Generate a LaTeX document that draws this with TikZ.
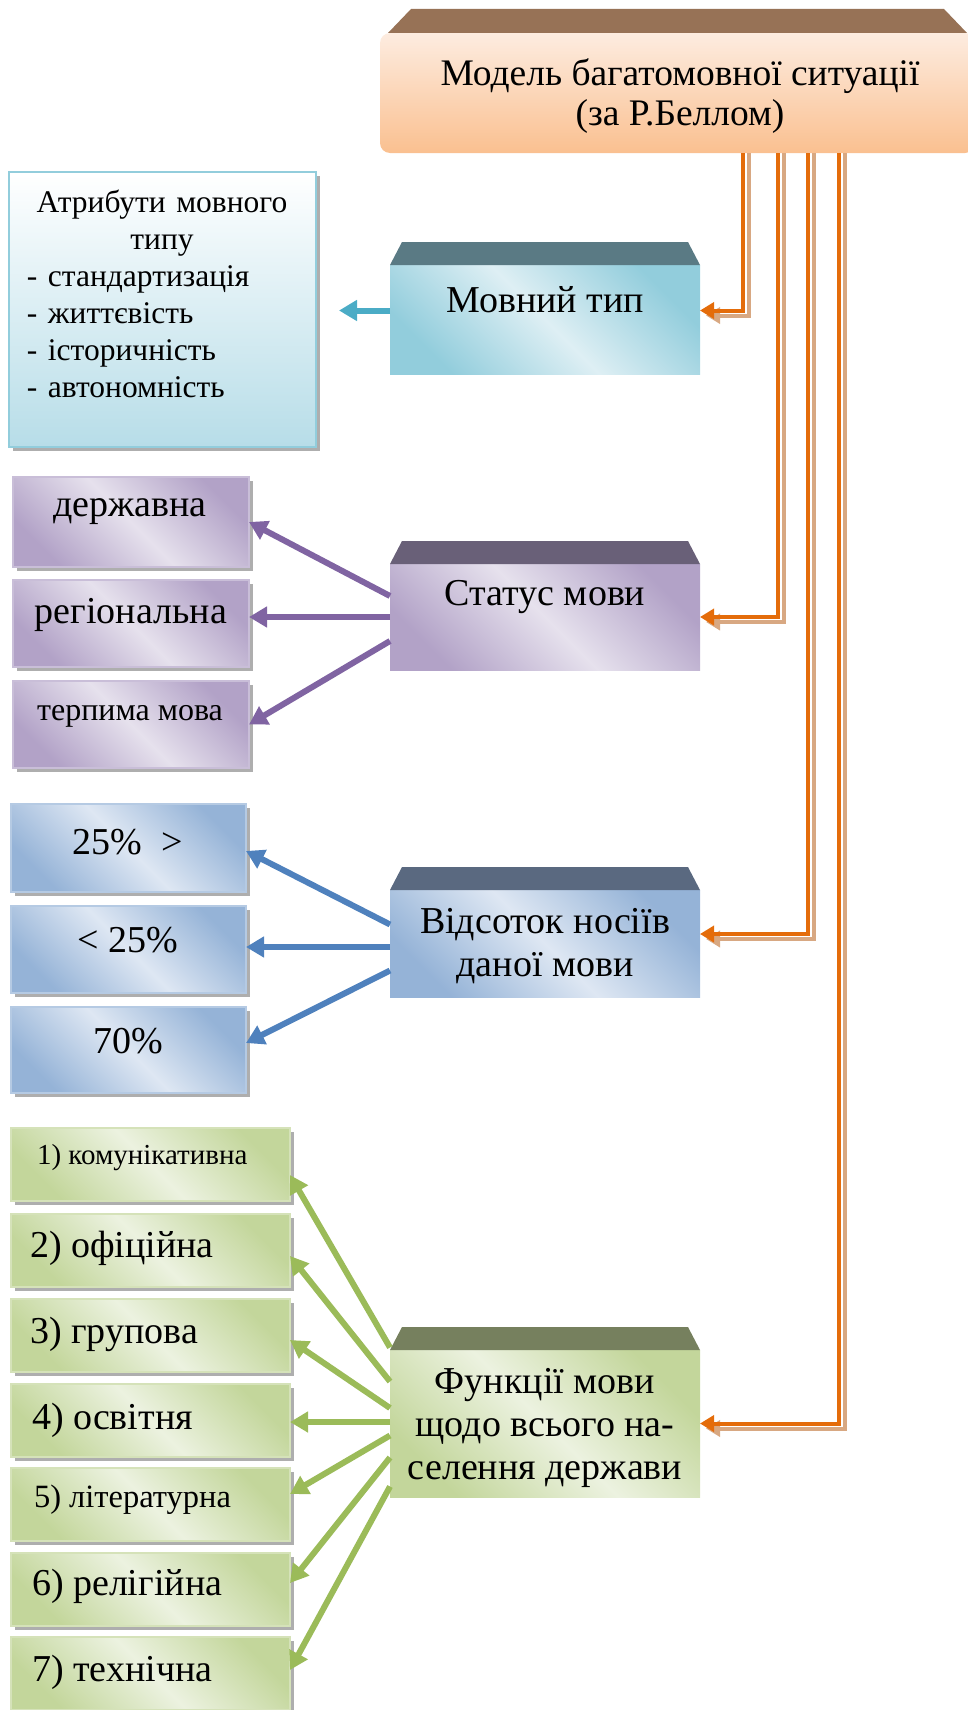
\documentclass[tikz,border=0pt]{standalone}
\usepackage{fontspec}
\setmainfont{Liberation Serif}
\newfontfamily\tnr{Liberation Serif}
\usetikzlibrary{arrows.meta,shadows}
\definecolor{orgline}{RGB}{228,108,10}
\definecolor{orgshadow}{RGB}{216,168,130}
\definecolor{titletop}{RGB}{151,114,86}
\definecolor{titlelight}{RGB}{253,236,224}
\definecolor{titledark}{RGB}{250,192,144}
\definecolor{tealtop}{RGB}{90,122,132}
\definecolor{teallight}{RGB}{222,239,244}
\definecolor{tealdark}{RGB}{146,205,220}
\definecolor{tealarrow}{RGB}{75,172,198}
\definecolor{attrbottom}{RGB}{183,221,232}
\definecolor{purtop}{RGB}{105,96,120}
\definecolor{purlight}{RGB}{230,225,237}
\definecolor{purdark}{RGB}{178,162,199}
\definecolor{purarrow}{RGB}{128,100,162}
\definecolor{blutop}{RGB}{90,105,128}
\definecolor{blulight}{RGB}{222,231,243}
\definecolor{bludark}{RGB}{149,179,215}
\definecolor{bluarrow}{RGB}{79,129,189}
\definecolor{grntop}{RGB}{118,128,94}
\definecolor{grnlight}{RGB}{236,242,224}
\definecolor{grndark}{RGB}{195,214,155}
\definecolor{grnarrow}{RGB}{155,187,89}
\newcommand\topband[2]{\fill[#2] (#1.north west) -- ([xshift=12pt,yshift=23pt]#1.north west) -- ([xshift=-12pt,yshift=23pt]#1.north east) -- (#1.north east) -- cycle;}
\newcommand\fz[2]{\tnr\fontsize{#1}{#2}\selectfont}
\tikzset{
  x=1pt, y=1pt,
  every node/.style={inner sep=0pt, outer sep=0pt},
  frontbox/.style 2 args={minimum width=310pt, top color=#1, bottom color=#1, middle color=#2, shading angle=-45},
  sidebox/.style n args={3}{top color=#1, bottom color=#1, middle color=#2, shading angle=-45, draw=#3, line width=1.5pt,
    drop shadow={shadow xshift=4pt, shadow yshift=-4pt, fill=black!45, opacity=0.7}},
  purbox/.style={sidebox={purdark}{purlight}{purdark!70}, minimum width=236pt},
  blubox/.style={sidebox={bludark}{blulight}{bludark!70}, minimum width=235pt},
  grnbox/.style={sidebox={grndark}{grnlight}{grndark!70}, minimum width=279pt, minimum height=73pt},
  big/.style={font=\fz{38}{43}, align=center},
  grntext/.style={anchor=west, font=\fz{38}{43}},
  orgarrow/.style={draw=orgline, line width=4pt, -{Triangle[length=14pt,width=16pt]}},
  orgshadowline/.style={draw=orgshadow, line width=4pt, -{Triangle[length=14pt,width=16pt]}},
  tealarr/.style={draw=tealarrow, line width=6pt, -{Triangle[length=18pt,width=20pt]}},
  purarr/.style={draw=purarrow, line width=6pt, -{Triangle[length=18pt,width=20pt]}},
  bluarr/.style={draw=bluarrow, line width=6pt, -{Triangle[length=18pt,width=20pt]}},
  grnarr/.style={draw=grnarrow, line width=6pt, -{Triangle[length=18pt,width=20pt]}},
}
\begin{document}
\begin{tikzpicture}
\useasboundingbox (0,0) rectangle (968,-1710);
\clip (0,0) rectangle (968,-1710);

% title
\node[rounded corners=10pt, minimum width=595pt, minimum height=120pt, top color=titlelight, bottom color=titledark] (title) at (677.5,-93) {};
\fill[titletop] ([xshift=8pt]title.north west) -- ([xshift=31pt,yshift=24pt]title.north west) -- ([xshift=-31pt,yshift=24pt]title.north east) -- ([xshift=-8pt]title.north east) -- cycle;
\node[big, font=\fz{37.5}{40}] (titlet) at (680,-96) {Модель багатомовної ситуації\\(за Р.Беллом)};

% main boxes
\node[frontbox={tealdark}{teallight}, minimum height=109pt] (mt) at (545,-319.5) {};
\topband{mt}{tealtop}
\node[big] (mtt) at (545,-300) {Мовний тип};

\node[frontbox={purdark}{purlight}, minimum height=106pt] (st) at (545,-617) {};
\topband{st}{purtop}
\node[big] (stt) at (545,-597) {Статус мови};

\node[frontbox={bludark}{blulight}, minimum height=107pt] (vs) at (545,-943.5) {};
\topband{vs}{blutop}
\node[big] (vst) at (545,-946.5) {Відсоток носіїв\\даної мови};

\node[frontbox={grndark}{grnlight}, minimum height=147pt] (fn) at (545,-1423.5) {};
\topband{fn}{grntop}
\node[big] (fnt) at (545,-1428) {Функції мови\\щодо всього на-\\селення держави};

% attributes
\node[minimum width=307pt, minimum height=275pt, top color=white, bottom color=attrbottom, draw=tealdark, line width=2.5pt,
  drop shadow={shadow xshift=4pt, shadow yshift=-4pt, fill=black!45, opacity=0.7}] (attr) at (162.5,-309.5) {};
\node[anchor=north west, text width=270pt, font=\fz{31.5}{37}] (attrt) at (27,-190)
  {\centering Атрибути мовного\\типу\par\raggedright - стандартизація\\- життєвість\\- історичність\\- автономність\par};

% status boxes
\node[purbox, minimum height=90pt] (p1) at (131,-522) {};
\node[big] (p1t) at (130,-512) {державна};
\node[purbox, minimum height=87pt] (p2) at (131,-623.5) {};
\node[big] (p2t) at (131,-615) {регіональна};
\node[purbox, minimum height=87pt] (p3) at (131,-724.5) {};
\node[big, font=\fz{32}{37}] (p3t) at (130,-716) {терпима мова};

% percent boxes
\node[blubox, minimum height=88pt] (b1) at (128.5,-848) {};
\node[big] (b1t) at (128,-842) {25\%\ \ >};
\node[blubox, minimum height=87pt] (b2) at (128.5,-949.5) {};
\node[big] (b2t) at (128,-940) {< 25\%};
\node[blubox, minimum height=86pt] (b3) at (128.5,-1050) {};
\node[big] (b3t) at (128,-1041) {70\%};

% function boxes
\node[grnbox] (f1) at (150.5,-1164.5) {};
\node[grntext, font=\fz{29}{31}] (f1t) at (37,-1158) {1) комунікативна};
\node[grnbox] (f2) at (150.5,-1250.5) {};
\node[grntext] (f2t) at (30,-1248) {2) офіційна};
\node[grnbox] (f3) at (150.5,-1335.5) {};
\node[grntext] (f3t) at (30,-1334) {3) групова};
\node[grnbox] (f4) at (150.5,-1420.5) {};
\node[grntext] (f4t) at (32,-1420) {4) освітня};
\node[grnbox] (f5) at (150.5,-1504.5) {};
\node[grntext, font=\fz{32.5}{35}] (f5t) at (34,-1500) {5) літературна};
\node[grnbox] (f6) at (150.5,-1589.5) {};
\node[grntext] (f6t) at (32,-1586) {6) релігійна};
\node[grnbox] (f7) at (150.5,-1673.5) {};
\node[grntext] (f7t) at (32,-1672) {7) технічна};

% teal arrow
\coordinate (attrtip) at (339,-310.5);
\draw[tealarr] ([yshift=9pt]mt.west) -- (attrtip);

% purple arrows
\draw[purarr] ([yshift=21pt]st.west) -- (p1.east);
\draw[purarr] (st.west) -- ([yshift=6.5pt]p2.east);
\draw[purarr] ([yshift=-24pt]st.west) -- (p3.east);

% blue arrows
\draw[bluarr] ([yshift=19pt]vs.west) -- ([yshift=-3pt]b1.east);
\draw[bluarr] ([yshift=-3.5pt]vs.west) -- ([yshift=2.5pt]b2.east);
\draw[bluarr] ([yshift=-27pt]vs.west) -- ([yshift=7pt]b3.east);

% green arrows
\draw[grnarr] ([yshift=76pt]fn.west) -- ([yshift=-10.5pt]f1.east);
\draw[grnarr] ([yshift=42pt]fn.west) -- ([yshift=-5.5pt]f2.east);
\draw[grnarr] ([yshift=15.5pt]fn.west) -- ([yshift=-4.5pt]f3.east);
\draw[grnarr] ([yshift=1.5pt]fn.west) -- ([yshift=-1.5pt]f4.east);
\draw[grnarr] ([yshift=-12pt]fn.west) -- ([yshift=10.5pt]f5.east);
\draw[grnarr] ([yshift=-34pt]fn.west) -- ([yshift=6.5pt]f6.east);
\draw[grnarr] ([yshift=-63pt]fn.west) -- ([yshift=3.5pt]f7.east);

% orange connectors
\foreach \dx/\tgt/\dy in {65.5/mt/9, 100.5/st/0, 130.5/vs/9.5, 161.5/fn/0}{
  \draw[orgshadowline] ([xshift=\dx+6]title.south) |- ([xshift=6,yshift=\dy-5]\tgt.east);
  \draw[orgarrow] ([xshift=\dx]title.south) |- ([yshift=\dy]\tgt.east);
}
\end{tikzpicture}
\end{document}
